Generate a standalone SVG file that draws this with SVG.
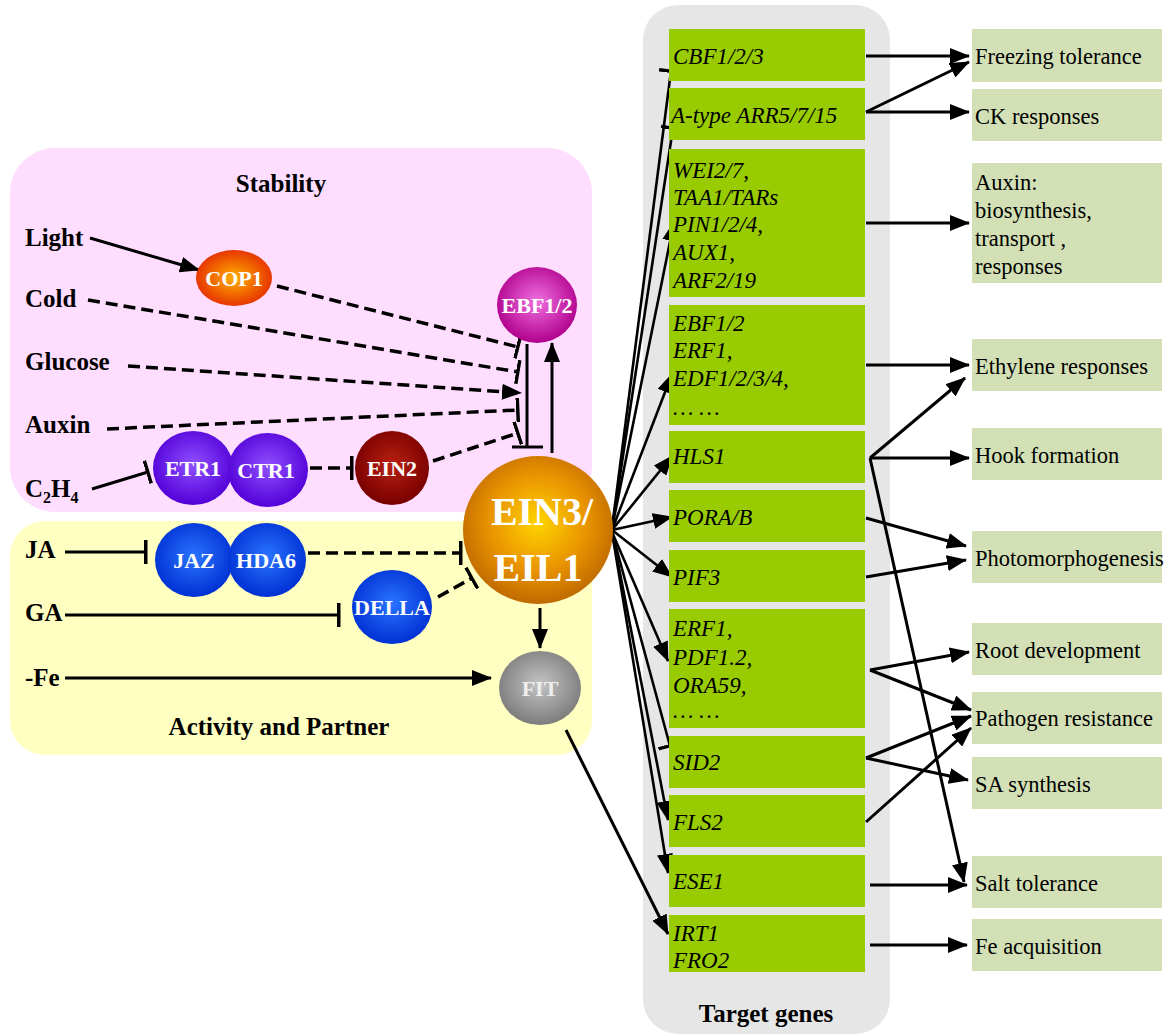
<svg xmlns="http://www.w3.org/2000/svg" width="1165" height="1036" viewBox="0 0 1165 1036">
<defs>
<style>
text{font-family:"Liberation Serif","Times New Roman",serif}
.title{font-size:25px;font-weight:bold;fill:#000}
.lbl{font-size:25px;font-weight:bold;fill:#000}
.node{font-size:22px;font-weight:bold;fill:#fff;text-anchor:middle}
.big{font-size:40px}
.gene{font-size:23px;font-style:italic;fill:#000}
.out{font-size:22.5px;fill:#000}
.gbox{fill:#99CC00}
.obox{fill:#D3E0B6}
.ln{fill:none;stroke:#000;stroke-width:3}
.thin{fill:none;stroke:#000;stroke-width:2.6}
.dash{fill:none;stroke:#000;stroke-width:3.5;stroke-dasharray:12 6}
.arr{marker-end:url(#arrow)}
.inh{marker-end:url(#bar)}
</style>
<marker id="arrow" viewBox="0 0 20 16" refX="19" refY="8" markerWidth="20" markerHeight="16" markerUnits="userSpaceOnUse" orient="auto"><path d="M0,0 L20,8 L0,16 z" fill="#000"/></marker>
<marker id="bar" viewBox="0 0 4 24" refX="2" refY="12" markerWidth="4" markerHeight="24" markerUnits="userSpaceOnUse" orient="auto"><rect x="0" y="0" width="3.5" height="24" fill="#000"/></marker>
<radialGradient id="gEIN3" cx="50%" cy="45%" r="55%"><stop offset="0" stop-color="#FFD400"/><stop offset="0.6" stop-color="#E89200"/><stop offset="1" stop-color="#BF6A00"/></radialGradient>
<radialGradient id="gCOP1" cx="50%" cy="50%" r="55%"><stop offset="0" stop-color="#FFB000"/><stop offset="1" stop-color="#E52A00"/></radialGradient>
<radialGradient id="gEBF" cx="50%" cy="45%" r="55%"><stop offset="0" stop-color="#F070E0"/><stop offset="1" stop-color="#B0008C"/></radialGradient>
<radialGradient id="gPur" cx="50%" cy="45%" r="55%"><stop offset="0" stop-color="#9050FF"/><stop offset="1" stop-color="#5200D8"/></radialGradient>
<radialGradient id="gEIN2" cx="50%" cy="45%" r="55%"><stop offset="0" stop-color="#B82010"/><stop offset="1" stop-color="#780000"/></radialGradient>
<radialGradient id="gBlue" cx="50%" cy="45%" r="55%"><stop offset="0" stop-color="#2A74FF"/><stop offset="1" stop-color="#0030D4"/></radialGradient>
<radialGradient id="gFIT" cx="50%" cy="45%" r="55%"><stop offset="0" stop-color="#C4C4C4"/><stop offset="1" stop-color="#7C7C7C"/></radialGradient>
</defs>

<g id="panels">
<rect id="stability" x="10" y="148" width="582" height="364" rx="45" fill="#FFDDFF"/>
<rect id="activity" x="10" y="521" width="582" height="234" rx="35" fill="#FFFFC1"/>
<rect id="targets" x="643" y="5" width="247" height="1029" rx="35" fill="#E6E6E6"/>
<text class="title" x="281" y="192" text-anchor="middle">Stability</text>
<text class="title" x="279" y="735" text-anchor="middle">Activity and Partner</text>
<text class="title" x="766" y="1022" text-anchor="middle">Target genes</text>
</g>

<g id="inputs">
<text class="lbl" x="25" y="246">Light</text>
<text class="lbl" x="25" y="307">Cold</text>
<text class="lbl" x="25" y="370">Glucose</text>
<text class="lbl" x="25" y="433">Auxin</text>
<text class="lbl" x="25" y="497">C<tspan font-size="16" dy="6">2</tspan><tspan dy="-6">H</tspan><tspan font-size="16" dy="6">4</tspan></text>
<text class="lbl" x="25" y="558">JA</text>
<text class="lbl" x="25" y="621">GA</text>
<text class="lbl" x="25" y="686">-Fe</text>
</g>

<g id="connectors">
<path class="ln arr" d="M90,238 L199,270"/>
<path class="dash inh" d="M277,286 L518,347"/>
<path class="dash inh" d="M88,300 L518,372"/>
<path class="dash arr" d="M128,366 L521,393"/>
<path class="dash inh" d="M107,429 L518,410"/>
<path class="dash inh" d="M433,461 L518,433"/>
<path class="ln" d="M527,344 L527,446"/>
<path class="ln" d="M512,447 L543,447" stroke-width="3.5"/>
<path class="ln arr" d="M552,453 L552,343"/>
<path class="ln inh" d="M92,489 L148,472"/>
<path class="dash inh" d="M310,468 L352,468"/>
<path class="ln inh" d="M65,552 L146,552"/>
<path class="dash inh" d="M308,553 L461,553"/>
<path class="ln inh" d="M65,615 L339,615"/>
<path class="dash inh" d="M438,597 L472,578"/>
<path class="ln arr" d="M65,678 L491,678"/>
<path class="ln arr" d="M540,608 L540,648"/>
<path class="ln arr" d="M566,730 L668,934"/>

<path class="thin inh" d="M612,528 L671,71"/>
<path class="thin inh" d="M612,528 L673,128"/>
<path class="thin arr" d="M612,528 L674,222"/>
<path class="thin arr" d="M612,530 L672,374"/>
<path class="thin arr" d="M612,530 L672,456"/>
<path class="thin arr" d="M612,530 L672,517"/>
<path class="thin arr" d="M612,530 L672,577"/>
<path class="thin arr" d="M612,532 L668,661"/>
<path class="thin inh" d="M612,532 L670,746"/>
<path class="thin arr" d="M612,532 L668,820"/>
<path class="thin arr" d="M612,532 L668,873"/>

<path class="ln arr" d="M866,56 L969,56"/>
<path class="ln arr" d="M866,112 L969,62"/>
<path class="ln arr" d="M866,112 L969,112"/>
<path class="ln arr" d="M866,223 L969,223"/>
<path class="ln arr" d="M866,365 L969,365"/>
<path class="ln arr" d="M870,458 L965,378"/>
<path class="ln arr" d="M870,458 L969,458"/>
<path class="ln arr" d="M870,458 L964,882"/>
<path class="ln arr" d="M866,518 L966,546"/>
<path class="ln arr" d="M866,577 L966,560"/>
<path class="ln arr" d="M870,670 L969,652"/>
<path class="ln arr" d="M870,670 L971,710"/>
<path class="ln arr" d="M866,758 L971,716"/>
<path class="ln arr" d="M866,758 L968,780"/>
<path class="ln arr" d="M866,822 L971,728"/>
<path class="ln arr" d="M870,885 L967,885"/>
<path class="ln arr" d="M870,945 L967,945"/>
</g>

<g id="n-COP1"><ellipse cx="234" cy="278" rx="38" ry="28" fill="url(#gCOP1)"/><text class="node" x="234" y="286">COP1</text></g>
<g id="n-EBF12"><ellipse cx="537" cy="305" rx="40" ry="38" fill="url(#gEBF)"/><text class="node" x="537" y="313">EBF1/2</text></g>
<g id="n-ETR1"><ellipse cx="193" cy="468" rx="40" ry="37" fill="url(#gPur)"/><text class="node" x="193" y="476">ETR1</text></g>
<g id="n-CTR1"><ellipse cx="268" cy="470" rx="40" ry="37" fill="url(#gPur)"/><text class="node" x="266" y="478">CTR1</text></g>
<g id="n-EIN2"><ellipse cx="392" cy="468" rx="37" ry="37" fill="url(#gEIN2)"/><text class="node" x="392" y="476">EIN2</text></g>
<g id="n-JAZ"><ellipse cx="194" cy="560" rx="39" ry="37" fill="url(#gBlue)"/><text class="node" x="194" y="568">JAZ</text></g>
<g id="n-HDA6"><ellipse cx="267" cy="560" rx="39" ry="37" fill="url(#gBlue)"/><text class="node" x="266" y="568">HDA6</text></g>
<g id="n-DELLA"><ellipse cx="392" cy="607" rx="40" ry="37" fill="url(#gBlue)"/><text class="node" x="392" y="615">DELLA</text></g>
<g id="n-FIT"><ellipse cx="540" cy="688" rx="41" ry="37" fill="url(#gFIT)"/><text class="node" x="540" y="696" style="fill:#eeeeee">FIT</text></g>
<g id="n-EIN3"><ellipse cx="538" cy="530" rx="75" ry="74" fill="url(#gEIN3)"/><text class="node big" x="542" y="525">EIN3/</text><text class="node big" x="538" y="581">EIL1</text></g>

<g id="genes">
<g id="g-CBF"><rect class="gbox" x="669" y="29" width="196" height="52"/><text class="gene" x="673" y="64">CBF1/2/3</text></g>
<g id="g-ARR"><rect class="gbox" x="669" y="88" width="196" height="52"/><text class="gene" x="671" y="123">A-type ARR5/7/15</text></g>
<g id="g-WEI"><rect class="gbox" x="669" y="149" width="196" height="148"/><text class="gene" x="673" y="178">WEI2/7,</text><text class="gene" x="673" y="205">TAA1/TARs</text><text class="gene" x="673" y="232">PIN1/2/4,</text><text class="gene" x="673" y="260">AUX1,</text><text class="gene" x="673" y="288">ARF2/19</text></g>
<g id="g-EBF"><rect class="gbox" x="669" y="305" width="196" height="120"/><text class="gene" x="673" y="331">EBF1/2</text><text class="gene" x="673" y="358">ERF1,</text><text class="gene" x="673" y="386">EDF1/2/3/4,</text><text class="gene" x="673" y="415">… …</text></g>
<g id="g-HLS1"><rect class="gbox" x="669" y="431" width="196" height="52"/><text class="gene" x="673" y="464">HLS1</text></g>
<g id="g-PORA"><rect class="gbox" x="669" y="490" width="196" height="52"/><text class="gene" x="673" y="525">PORA/B</text></g>
<g id="g-PIF3"><rect class="gbox" x="669" y="550" width="196" height="52"/><text class="gene" x="673" y="585">PIF3</text></g>
<g id="g-ERF1"><rect class="gbox" x="669" y="609" width="196" height="119"/><text class="gene" x="673" y="636">ERF1,</text><text class="gene" x="673" y="665">PDF1.2,</text><text class="gene" x="673" y="693">ORA59,</text><text class="gene" x="673" y="718">… …</text></g>
<g id="g-SID2"><rect class="gbox" x="669" y="736" width="196" height="52"/><text class="gene" x="673" y="770">SID2</text></g>
<g id="g-FLS2"><rect class="gbox" x="669" y="795" width="196" height="52"/><text class="gene" x="673" y="830">FLS2</text></g>
<g id="g-ESE1"><rect class="gbox" x="669" y="855" width="196" height="52"/><text class="gene" x="673" y="889">ESE1</text></g>
<g id="g-IRT1"><rect class="gbox" x="669" y="915" width="196" height="57"/><text class="gene" x="673" y="941">IRT1</text><text class="gene" x="673" y="968">FRO2</text></g>
</g>

<g id="outcomes">
<g id="o-freezing"><rect class="obox" x="972" y="29" width="190" height="53"/><text class="out" x="975" y="64">Freezing tolerance</text></g>
<g id="o-ck"><rect class="obox" x="972" y="89" width="190" height="52"/><text class="out" x="975" y="124">CK responses</text></g>
<g id="o-auxin"><rect class="obox" x="972" y="163" width="190" height="120"/><text class="out" x="975" y="190">Auxin:</text><text class="out" x="975" y="218">biosynthesis,</text><text class="out" x="975" y="246">transport ,</text><text class="out" x="975" y="274">responses</text></g>
<g id="o-ethylene"><rect class="obox" x="972" y="339" width="190" height="52"/><text class="out" x="975" y="374">Ethylene responses</text></g>
<g id="o-hook"><rect class="obox" x="972" y="428" width="190" height="52"/><text class="out" x="975" y="463">Hook formation</text></g>
<g id="o-photo"><rect class="obox" x="972" y="531" width="190" height="52"/><text class="out" x="975" y="566">Photomorphogenesis</text></g>
<g id="o-root"><rect class="obox" x="972" y="623" width="190" height="52"/><text class="out" x="975" y="658">Root development</text></g>
<g id="o-pathogen"><rect class="obox" x="972" y="692" width="190" height="52"/><text class="out" x="975" y="726">Pathogen resistance</text></g>
<g id="o-sa"><rect class="obox" x="972" y="757" width="190" height="52"/><text class="out" x="975" y="792">SA synthesis</text></g>
<g id="o-salt"><rect class="obox" x="972" y="856" width="190" height="52"/><text class="out" x="975" y="891">Salt tolerance</text></g>
<g id="o-fe"><rect class="obox" x="972" y="919" width="190" height="52"/><text class="out" x="975" y="954">Fe acquisition</text></g>
</g>
</svg>
